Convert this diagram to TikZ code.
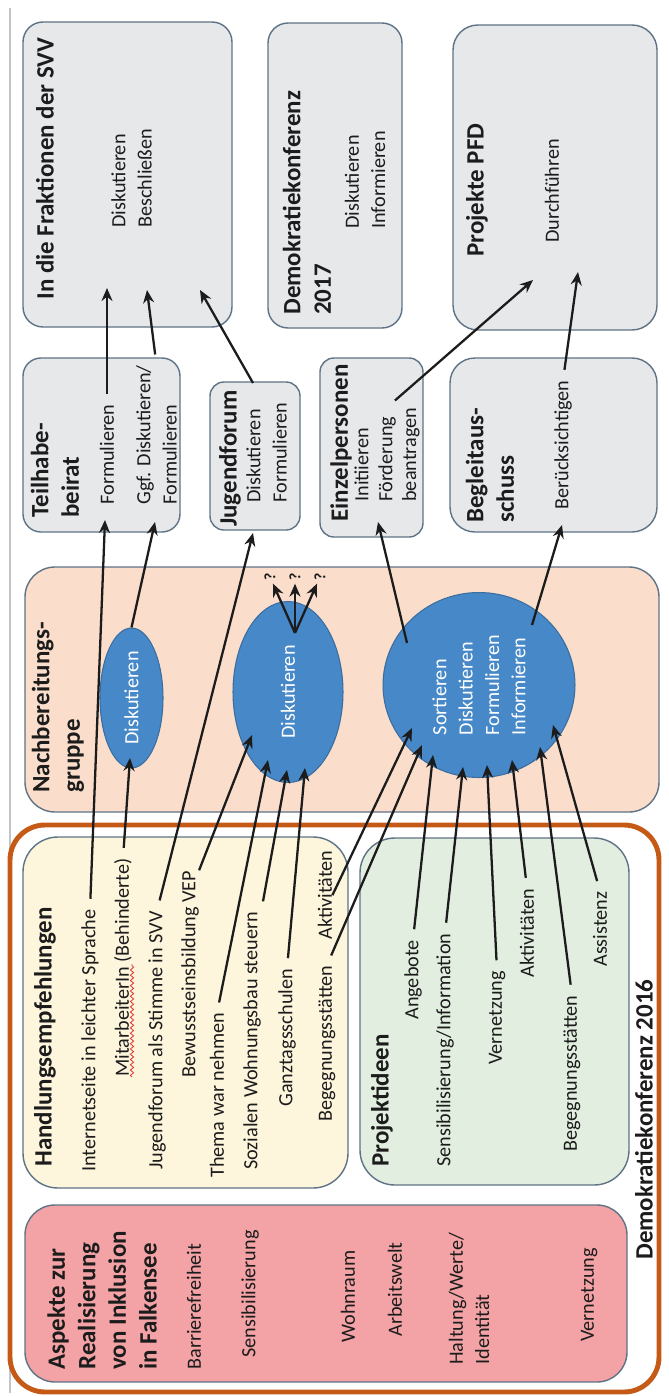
\documentclass[tikz,border=0pt]{standalone}
\usepackage{fontspec}
\setmainfont{Carlito}
\usepackage{xcolor}
\usepackage{tikz}
\usetikzlibrary{arrows.meta,shapes.geometric,decorations.pathmorphing}
\definecolor{ink}{HTML}{1C1C1C}
\definecolor{rand}{HTML}{5F7386}
\definecolor{grau}{HTML}{E6E8EA}
\definecolor{pfirsich}{HTML}{FADDCB}
\definecolor{creme}{HTML}{FDF5DC}
\definecolor{mint}{HTML}{E2EEDF}
\definecolor{rosa}{HTML}{F3A2A5}
\definecolor{rahmen}{HTML}{C55A17}
\definecolor{blau}{HTML}{4688C8}
\definecolor{blaurand}{HTML}{3B6E9F}
\definecolor{linie}{HTML}{C4C4C4}
\definecolor{wellrot}{HTML}{E0403C}
\newcommand{\labsize}{\fontsize{11.5}{15}\selectfont}
\newcommand{\ttlsize}{\fontsize{14.2}{17.4}\selectfont\bfseries}
\tikzset{
  panel/.style={draw=rand, line width=0.8pt, rounded corners=0.5cm},
  lab/.style={font=\labsize, text=ink, inner sep=0pt, anchor=west},
  ttl/.style={font=\ttlsize, text=ink, inner sep=0pt, anchor=west},
  bubble/.style={ellipse, fill=blau, draw=blaurand, line width=0.6pt, inner sep=0pt,
    text=white, font=\labsize, align=left},
  conn/.style={draw=ink, line width=1.3pt, -{Stealth[length=2.6mm,width=2.2mm]}},
  tconn/.style={conn, shorten <=6pt},
}

\begin{document}
\begin{tikzpicture}[x=0.02cm, y=-0.02cm, every node/.append style={rotate=90}]
  \useasboundingbox (0,0) rectangle (669,1396);

  % frame line on the left
  \draw[linie, line width=0.6pt] (10,8) -- (10,1393);

  % targets
  \draw[panel, fill=grau, rounded corners=0.4cm] (23,22) rectangle (232,327);
  \draw[panel, fill=grau, rounded corners=0.4cm] (268,23) rectangle (402,328);
  \draw[panel, fill=grau, rounded corners=0.5cm] (453,25) rectangle (657,330);

  % committees
  \draw[panel, fill=grau, rounded corners=0.36cm] (23,358) rectangle (180,532);
  \draw[panel, fill=grau, rounded corners=0.28cm] (210,382) rectangle (300,530);
  \draw[panel, fill=grau, rounded corners=0.28cm] (320,358) rectangle (423,537);
  \draw[panel, fill=grau, rounded corners=0.5cm] (450,358) rectangle (657,532);

  % follow-up group and conference 2016
  \draw[panel, fill=pfirsich, rounded corners=0.6cm] (25,567) rectangle (659,812);
  \draw[draw=rahmen, line width=2.8pt, rounded corners=0.7cm] (10,825) rectangle (659,1392);
  \draw[panel, fill=creme, rounded corners=0.7cm] (23,837) rectangle (348,1188);
  \draw[panel, fill=mint, rounded corners=0.7cm] (360,838) rectangle (629,1185);
  \draw[panel, fill=rosa, rounded corners=0.6cm] (25,1205) rectangle (627,1382);

  % box texts, top
  \node[ttl] (fraktion) at (45,300) {In die Fraktionen der SVV};
  \node[lab, align=left] (fraktionTxt) at (131.5,228) {Diskutieren\\Beschließen};
  \node[ttl, align=left] (dk17) at (307,315) {Demokratiekonferenz\\2017};
  \node[lab, align=left] (dk17Txt) at (365,229) {Diskutieren\\Informieren};
  \node[ttl] (pfd) at (477,257) {Projekte PFD};
  \node[lab] (pfdTxt) at (552,243) {Durchführen};

  \node[ttl, align=left] (teilhabe) at (55,518) {Teilhabe-\\beirat};
  \node[lab] (thForm) at (107,505) {Formulieren};
  \node[lab, align=left] (thGgf) at (156.5,505) {Ggf. Diskutieren/\\Formulieren};
  \node[ttl] (jugend) at (230,527) {Jugendforum};
  \node[lab, align=left] (jugendTxt) at (266.5,503) {Diskutieren\\Formulieren};
  \node[ttl] (einzel) at (341,522) {Einzelpersonen};
  \node[lab, align=left, font=\fontsize{11.5}{13.6}\selectfont] (einzelTxt) at (387,502)
    {Initiieren\\Förderung\\beantragen};
  \node[ttl, align=left] (begleit) at (490,523) {Begleitaus-\\schuss};
  \node[lab] (begleitTxt) at (563,510) {Berücksichtigen};

  % follow-up group
  \node[ttl, align=left] (nachb) at (58,793) {Nachbereitungs-\\gruppe};
  \node[bubble, minimum width=2.8cm, minimum height=1.26cm] (disk1) at (131.5,698) {Diskutieren};
  \node[bubble, minimum width=3.62cm, minimum height=2.2cm] (disk2) at (288,692) {Diskutieren};
  \node[bubble, minimum width=3.7cm, minimum height=3.84cm] (sort) at (479,685)
    {Sortieren\\Diskutieren\\Formulieren\\Informieren};
  \node[lab, anchor=center, inner sep=1.5pt, font=\fontsize{9}{10}\selectfont\bfseries] (frage1) at (270,577) {?};
  \node[lab, anchor=center, inner sep=1.5pt, font=\fontsize{9}{10}\selectfont\bfseries] (frage2) at (295,577) {?};
  \node[lab, anchor=center, inner sep=1.5pt, font=\fontsize{9}{10}\selectfont\bfseries] (frage3) at (320,577) {?};

  % Handlungsempfehlungen
  \node[ttl] (handl) at (45,1167) {Handlungsempfehlungen};
  \node[lab] (intern) at (90,1172) {Internetseite in leichter Sprache};
  \node[lab] (mitarb) at (123,1077) {MitarbeiterIn (Behinderte)};
  \node[lab] (jfsvv) at (157,1170) {Jugendforum als Stimme in SVV};
  \node[lab] (bewusst) at (190,1078) {Bewusstseinsbildung VEP};
  \node[lab] (thema) at (217,1178) {Thema war nehmen};
  \node[lab] (sozial) at (252,1170) {Sozialen Wohnungsbau steuern};
  \node[lab] (ganztag) at (287,1107) {Ganztagsschulen};
  \node[lab] (begH) at (327,1122) {Begegnungsstätten};
  \node[lab] (aktH) at (325,940) {Aktivitäten};
  \draw[wellrot, line width=0.5pt, decorate,
    decoration={snake, amplitude=0.9pt, segment length=3pt}] (132,1077) -- (132,964);

  % Projektideen
  \node[ttl] (projekt) at (382,1167) {Projektideen};
  \node[lab] (angebot) at (413,1020) {Angebote};
  \node[lab] (sensib) at (445,1167) {Sensibilisierung/Information};
  \node[lab] (vernetz) at (497,1065) {Vernetzung};
  \node[lab] (aktP) at (527,978) {Aktivitäten};
  \node[lab] (begP) at (572,1152) {Begegnungsstätten};
  \node[lab] (assist) at (600,967) {Assistenz};

  % Aspekte
  \node[ttl, align=left] (aspekte) at (102,1370) {Aspekte zur\\Realisierung\\von Inklusion\\in Falkensee};
  \node[lab] (barriere) at (194,1370) {Barrierefreiheit};
  \node[lab] (sensAsp) at (250,1358) {Sensibilisierung};
  \node[lab] (wohnraum) at (348,1343) {Wohnraum};
  \node[lab] (arbeit) at (395,1337) {Arbeitswelt};
  \node[lab, align=left] (haltung) at (469,1365) {Haltung/Werte/\\Identität};
  \node[lab] (vernAsp) at (589,1342) {Vernetzung};
  \node[ttl] (dk16) at (644,1260) {Demokratiekonferenz 2016};

  % arrow ends
  \coordinate (fr1) at (107,288);
  \coordinate (fr2) at (147,290);
  \coordinate (fr3) at (200,290);
  \coordinate (pf1) at (533,280);
  \coordinate (pf2) at (578,272);
  \coordinate (th1) at (105,520);
  \coordinate (th2) at (155,522);
  \coordinate (jf1) at (253,533);
  \coordinate (jfoben) at (253,383);
  \coordinate (ep1) at (378,522);
  \coordinate (ba1) at (562,525);
  \coordinate (d1in) at (130,758);
  \coordinate (d2a) at (252,735);
  \coordinate (d2b) at (268,760);
  \coordinate (d2c) at (287,770);
  \coordinate (d2d) at (305,768);
  \coordinate (fork) at (295,633);
  \coordinate (s1) at (412,728);
  \coordinate (s2) at (422,745);
  \coordinate (s3) at (433,755);
  \coordinate (s4) at (463,767);
  \coordinate (s5) at (487,765);
  \coordinate (s6) at (512,760);
  \coordinate (s7) at (540,747);
  \coordinate (s8) at (553,725);
  \coordinate (sortA) at (407,643);
  \coordinate (sortB) at (532,625);

  % connectors
  \draw[tconn] (intern.east) -- (th1);
  \draw[tconn] (mitarb.east) -- (d1in);
  \draw[conn] (disk1.east) -- (th2);
  \draw[tconn] (thForm.east) -- (fr1);
  \draw[tconn] (thGgf.east) -- (fr2);
  \draw[tconn] (jfsvv.east) -- (jf1);
  \draw[conn] (jfoben) -- (fr3);
  \draw[conn] (bewusst.south east) -- (d2a);
  \draw[tconn] (thema.east) -- (d2b);
  \draw[tconn] (sozial.south east) -- (d2c);
  \draw[tconn] (ganztag.east) -- (d2d);
  \draw[conn] (fork) -- (frage1);
  \draw[conn] (fork) -- (frage2);
  \draw[conn] (fork) -- (frage3);
  \draw[conn] (aktH.south) -- (s1);
  \draw[tconn] (begH.east) -- (s2);
  \draw[tconn] (angebot.east) -- (s3);
  \draw[tconn] (sensib.east) -- (s4);
  \draw[tconn] (vernetz.east) -- (s5);
  \draw[tconn] (aktP.east) -- (s6);
  \draw[tconn] (begP.east) -- (s7);
  \draw[tconn] (assist.east) -- (s8);
  \draw[conn] (sortA) -- (ep1);
  \draw[conn] (sortB) -- (ba1);
  \draw[tconn] (einzelTxt.east) -- (pf1);
  \draw[tconn] (begleitTxt.east) -- (pf2);
\end{tikzpicture}
\end{document}
